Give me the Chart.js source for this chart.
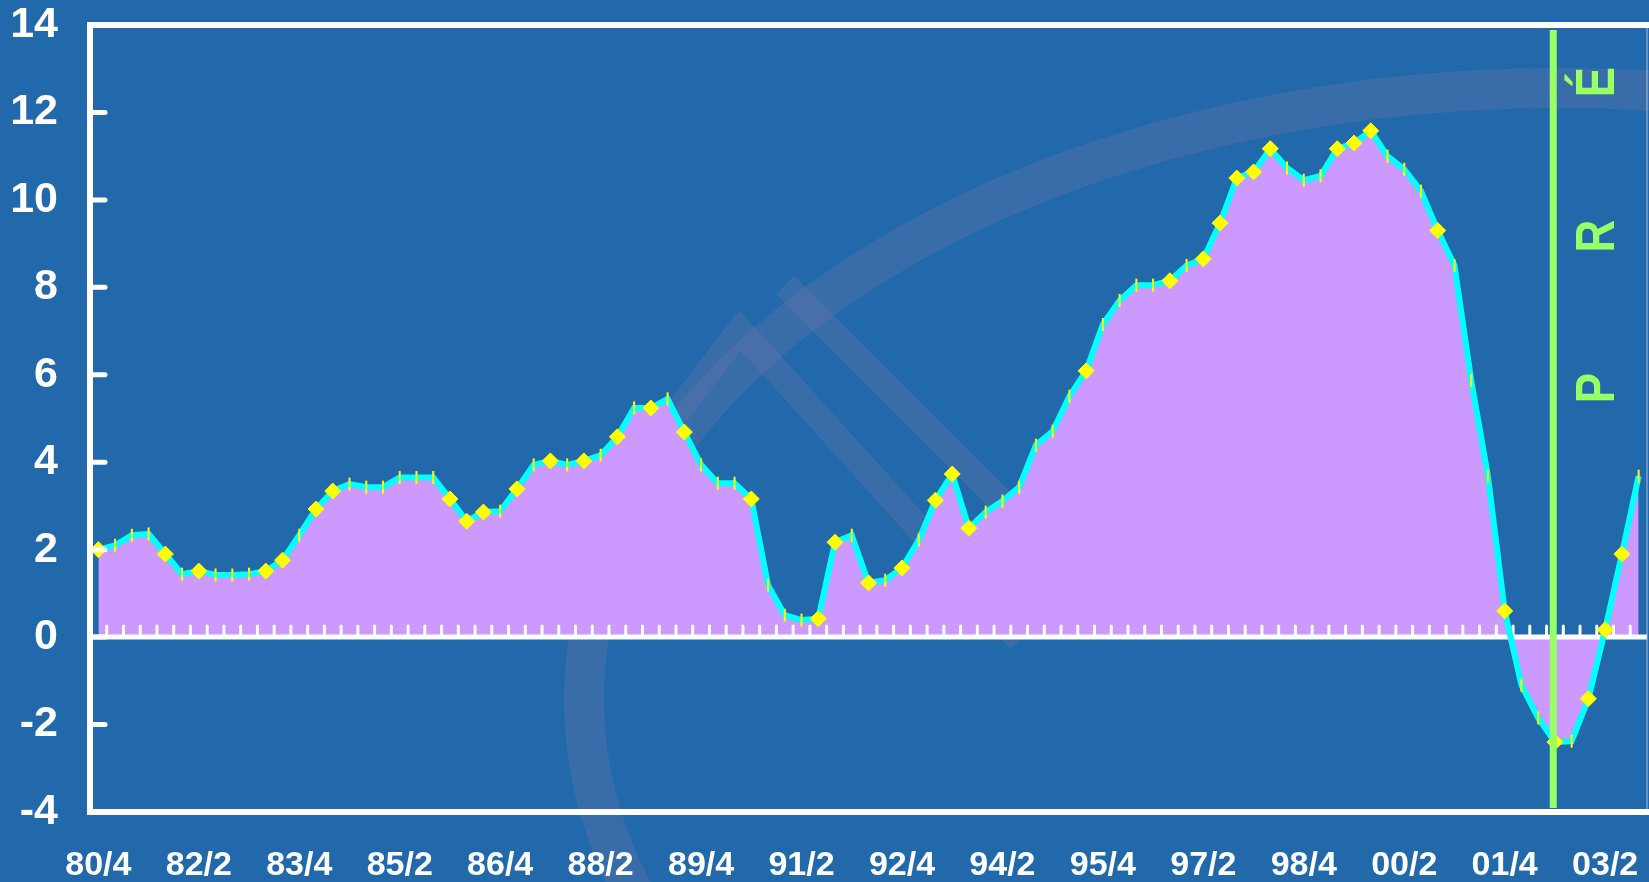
<!DOCTYPE html>
<html>
<head>
<meta charset="utf-8">
<title>Growth chart</title>
<script src="https://cdn.jsdelivr.net/npm/chart.js@4.4.0/dist/chart.umd.min.js"></script>
<style>
    html, body { margin: 0; padding: 0; background: #2169aa; overflow: hidden; }
    #wrap { width: 1656px; height: 882px; position: relative; }
</style>
</head>
<body>
<div id="wrap"><canvas id="growthChart"></canvas></div>
<script>
// Quarters (year/quarter)
const quarters = [
    '80/4',
    '81/1', '81/2', '81/3', '81/4', '82/1', '82/2', '82/3', '82/4',
    '83/1', '83/2', '83/3', '83/4', '84/1', '84/2', '84/3', '84/4',
    '85/1', '85/2', '85/3', '85/4', '86/1', '86/2', '86/3', '86/4',
    '87/1', '87/2', '87/3', '87/4', '88/1', '88/2', '88/3', '88/4',
    '89/1', '89/2', '89/3', '89/4', '90/1', '90/2', '90/3', '90/4',
    '91/1', '91/2', '91/3', '91/4', '92/1', '92/2', '92/3', '92/4',
    '93/1', '93/2', '93/3', '93/4', '94/1', '94/2', '94/3', '94/4',
    '95/1', '95/2', '95/3', '95/4', '96/1', '96/2', '96/3', '96/4',
    '97/1', '97/2', '97/3', '97/4', '98/1', '98/2', '98/3', '98/4',
    '99/1', '99/2', '99/3', '99/4', '00/1', '00/2', '00/3', '00/4',
    '01/1', '01/2', '01/3', '01/4', '02/1', '02/2', '02/3', '02/4',
    '03/1', '03/2', '03/3', '03/4'
];

// Values
const growth = [
    2.0,
    2.1, 2.33, 2.36, 1.9, 1.44, 1.51, 1.42, 1.42,
    1.44, 1.51, 1.76, 2.33, 2.93, 3.34, 3.5, 3.43,
    3.43, 3.65, 3.65, 3.65, 3.16, 2.65, 2.86, 2.88,
    3.39, 3.94, 4.03, 3.94, 4.03, 4.16, 4.58, 5.24,
    5.24, 5.45, 4.69, 3.94, 3.52, 3.52, 3.16, 1.19,
    0.5, 0.39, 0.42, 2.17, 2.33, 1.24, 1.3, 1.58,
    2.22, 3.13, 3.73, 2.49, 2.86, 3.11, 3.43, 4.39,
    4.71, 5.51, 6.09, 7.15, 7.7, 8.05, 8.05, 8.15,
    8.5, 8.65, 9.47, 10.5, 10.64, 11.17, 10.73, 10.45,
    10.55, 11.17, 11.3, 11.58, 11.0, 10.7, 10.2, 9.3,
    8.5, 5.87, 3.68, 0.6, -1.1, -1.85, -2.4, -2.38,
    -1.41, 0.17, 1.9, 3.68
];

const xTickLabels = ['80/4', '82/2', '83/4', '85/2', '86/4', '88/2', '89/4', '91/2',
    '92/4', '94/2', '95/4', '97/2', '98/4', '00/2', '01/4', '03/2'];
const yTicks = [-4, -2, 0, 2, 4, 6, 8, 10, 12, 14];

// points drawn as diamonds (others get a small vertical dash)
const diamondAt = [0, 4, 6, 10, 11, 13, 14, 21, 22, 23, 25, 27, 29, 31, 33, 35, 39,
    43, 44, 46, 48, 50, 51, 52, 59, 64, 66, 67, 68, 69, 70, 74, 75, 76, 80, 84,
    87, 89, 90, 91];

// forecast marker
const forecastLabel = ['P', 'R', 'É'];
const forecastFrom = 86.9;

const WHITE = '#ffffff';
const GREEN = '#99ff66';

const isDiamond = i => diamondAt.includes(i);

// Faint logo behind the plot
const watermarkPlugin = {
    id: 'watermark',
    beforeDraw(chart) {
        const ctx = chart.ctx;
        ctx.save();
        ctx.strokeStyle = 'rgba(110, 118, 172, 0.32)';
        ctx.lineWidth = 40;
        ctx.beginPath();
        ctx.ellipse(1560, 700, 976, 612, 0, 0, Math.PI * 2);
        ctx.stroke();
        ctx.lineWidth = 26;
        ctx.beginPath();
        ctx.moveTo(610, 500);
        ctx.lineTo(740, 330);
        ctx.lineTo(1020, 640);
        ctx.stroke();
        ctx.beginPath();
        ctx.moveTo(785, 285);
        ctx.lineTo(1090, 590);
        ctx.stroke();
        ctx.restore();
    }
};

// Frame, zero line with little ticks, inner y ticks
const framePlugin = {
    id: 'frame',
    beforeDatasetsDraw(chart) {
        const { ctx, chartArea, scales } = chart;
        const x = scales.x, y = scales.y;
        const y0 = y.getPixelForValue(0);
        ctx.save();
        ctx.strokeStyle = WHITE;
        ctx.lineCap = 'round';
        // small ticks on zero line at category boundaries
        ctx.lineWidth = 3;
        for (let i = 1; i < quarters.length; i++) {
            const bx = (x.getPixelForValue(i - 1) + x.getPixelForValue(i)) / 2;
            ctx.beginPath();
            ctx.moveTo(bx, y0 - 11);
            ctx.lineTo(bx, y0);
            ctx.stroke();
        }
        ctx.lineCap = 'butt';
        ctx.lineWidth = 5;
        ctx.beginPath();
        ctx.moveTo(chartArea.left, y0);
        ctx.lineTo(chartArea.right, y0);
        ctx.stroke();
        ctx.restore();
    },
    afterDatasetsDraw(chart) {
        const { ctx, chartArea, scales } = chart;
        const x = scales.x, y = scales.y;
        ctx.save();
        // forecast line
        const gx = x.getPixelForValue(forecastFrom);
        ctx.strokeStyle = GREEN;
        ctx.lineWidth = 7;
        ctx.beginPath();
        ctx.moveTo(gx, chartArea.top + 5);
        ctx.lineTo(gx, chartArea.bottom - 4);
        ctx.stroke();

        ctx.fillStyle = GREEN;
        ctx.font = 'bold 56px "Liberation Sans", Arial, sans-serif';
        ctx.textAlign = 'center';
        ctx.textBaseline = 'alphabetic';
        const letterY = [388, 236, 82];
        forecastLabel.forEach((ch, k) => {
            ctx.save();
            ctx.translate(gx + 61, letterY[k]);
            ctx.rotate(-Math.PI / 2);
            ctx.scale(0.81, 1);
            ctx.fillText(ch, 0, 0);
            ctx.restore();
        });

        // thin right edge
        ctx.strokeStyle = 'rgba(190, 200, 220, 0.6)';
        ctx.lineWidth = 1.5;
        ctx.beginPath();
        ctx.moveTo(chartArea.right, chartArea.top);
        ctx.lineTo(chartArea.right, chartArea.bottom);
        ctx.stroke();

        // frame
        ctx.strokeStyle = WHITE;
        ctx.lineWidth = 6;
        ctx.beginPath();
        ctx.moveTo(chart.width, chartArea.top);
        ctx.lineTo(chartArea.left, chartArea.top);
        ctx.lineTo(chartArea.left, chartArea.bottom);
        ctx.lineTo(chart.width, chartArea.bottom);
        ctx.stroke();

        // inner y ticks
        ctx.lineWidth = 5;
        ctx.lineCap = 'round';
        yTicks.slice(1, -1).forEach(v => {
            const py = y.getPixelForValue(v);
            ctx.beginPath();
            ctx.moveTo(chartArea.left, py);
            ctx.lineTo(chartArea.left + 15, py);
            ctx.stroke();
        });
        ctx.restore();
    }
};

function initGrowthChart() {
    const canvas = document.getElementById('growthChart');
    new Chart(canvas.getContext('2d'), {
        type: 'line',
        data: {
            labels: quarters,
            datasets: [{
                data: growth,
                borderColor: '#00ffff',
                borderWidth: 6,
                backgroundColor: '#cc99ff',
                fill: 'origin',
                tension: 0,
                pointStyle: c => isDiamond(c.dataIndex) ? 'rectRot' : 'line',
                pointRotation: c => isDiamond(c.dataIndex) ? 0 : 90,
                pointRadius: c => isDiamond(c.dataIndex) ? 8 : 6.5,
                pointBorderWidth: c => isDiamond(c.dataIndex) ? 1 : 2,
                pointBackgroundColor: '#ffff00',
                pointBorderColor: '#ffff00'
            }]
        },
        options: {
            responsive: true,
            maintainAspectRatio: false,
            animation: false,
            events: [],
            layout: { padding: { top: 25, right: 2, left: 0, bottom: 0 } },
            plugins: {
                legend: { display: false },
                tooltip: { enabled: false },
                filler: { drawTime: 'beforeDatasetsDraw' }
            },
            scales: {
                x: {
                    type: 'category',
                    offset: true,
                    grid: { display: false, drawTicks: false },
                    border: { display: false },
                    ticks: {
                        autoSkip: false,
                        maxRotation: 0,
                        padding: 37,
                        color: WHITE,
                        font: { family: '"Liberation Sans", Arial, sans-serif', weight: 'bold', size: 34, lineHeight: 1 },
                        callback: function (val, idx) {
                            const lab = quarters[idx];
                            return xTickLabels.includes(lab) ? lab : '';
                        }
                    },
                    afterFit: scale => {
                        scale.height = 70;
                        scale.paddingLeft = 0;
                        scale.paddingRight = 0;
                    }
                },
                y: {
                    min: -4,
                    max: 14,
                    grid: { display: false, drawTicks: false },
                    border: { display: false },
                    ticks: {
                        stepSize: 2,
                        padding: 32,
                        color: WHITE,
                        font: { family: '"Liberation Sans", Arial, sans-serif', weight: 'bold', size: 43, lineHeight: 1 }
                    },
                    afterFit: scale => {
                        scale.width = 90;
                        scale.paddingTop = 0;
                        scale.paddingBottom = 0;
                    }
                }
            }
        },
        plugins: [watermarkPlugin, framePlugin]
    });
}

document.addEventListener('DOMContentLoaded', () => {
    initGrowthChart();
});
</script>
</body>
</html>
